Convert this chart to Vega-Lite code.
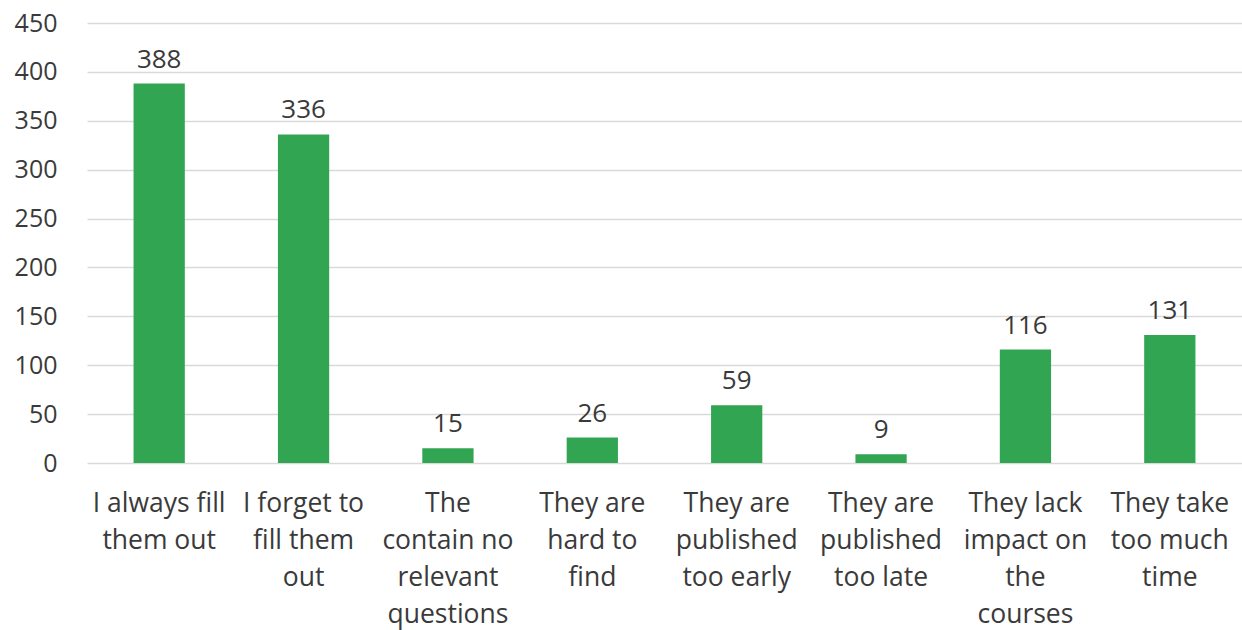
{
  "$schema": "https://vega.github.io/schema/vega-lite/v6.json",
  "width": 1155,
  "height": 440,
  "autosize": {"type": "none"},
  "padding": {"left": 87, "top": 23, "right": 0, "bottom": 167},
  "background": "white",
  "config": {
    "view": {"stroke": null},
    "font": "Open Sans"
  },
  "data": {
    "values": [
      {"reason": "I always fill\nthem out", "count": 388},
      {"reason": "I forget to\nfill them\nout", "count": 336},
      {"reason": "The\ncontain no\nrelevant\nquestions", "count": 15},
      {"reason": "They are\nhard to\nfind", "count": 26},
      {"reason": "They are\npublished\ntoo early", "count": 59},
      {"reason": "They are\npublished\ntoo late", "count": 9},
      {"reason": "They lack\nimpact on\nthe\ncourses", "count": 116},
      {"reason": "They take\ntoo much\ntime", "count": 131}
    ]
  },
  "encoding": {
    "x": {
      "field": "reason",
      "type": "nominal",
      "sort": null,
      "scale": {"paddingInner": 0.645, "paddingOuter": 0.3225},
      "axis": {
        "title": null,
        "labelAngle": 0,
        "labelExpr": "split(datum.value, '\\n')",
        "labelFontSize": 26.5,
        "labelLineHeight": 37,
        "labelColor": "#3a3a3a",
        "labelPadding": 27,
        "labelBaseline": "top",
        "domain": false,
        "ticks": false,
        "labelLimit": 300
      }
    },
    "y": {
      "field": "count",
      "type": "quantitative",
      "scale": {"domain": [0, 450]},
      "axis": {
        "title": null,
        "values": [0, 50, 100, 150, 200, 250, 300, 350, 400, 450],
        "labelFontSize": 25,
        "labelColor": "#3a3a3a",
        "labelPadding": 30,
        "domain": false,
        "ticks": false,
        "gridColor": "#d9d9d9",
        "gridWidth": 1.5
      }
    }
  },
  "layer": [
    {"mark": {"type": "bar", "color": "#31a552"}},
    {
      "mark": {"type": "text", "baseline": "bottom", "dy": -11, "fontSize": 26, "color": "#3a3a3a"},
      "encoding": {"text": {"field": "count", "type": "quantitative"}}
    }
  ]
}
